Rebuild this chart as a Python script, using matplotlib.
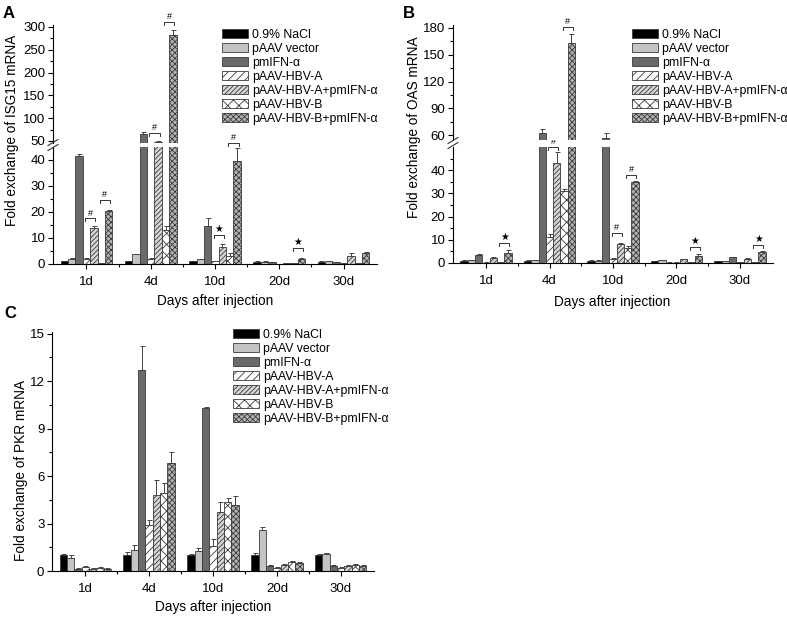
import numpy as np
import matplotlib
matplotlib.use('Agg')
import matplotlib.pyplot as plt
from matplotlib.lines import Line2D

# ---- data ----
days = ['1d', '4d', '10d', '20d', '30d']
groups = ['0.9% NaCl', 'pAAV vector', 'pmIFN-α', 'pAAV-HBV-A',
          'pAAV-HBV-A+pmIFN-α', 'pAAV-HBV-B', 'pAAV-HBV-B+pmIFN-α']

# rows = groups, cols = days
isg15_mean = [[1.0, 1.0, 1.0, 0.9, 0.9],
              [2.0, 3.7, 1.8, 0.9, 1.0],
              [41.5, 66, 14.5, 0.6, 0.6],
              [2.0, 2.0, 1.0, 0.1, 0.2],
              [13.8, 47, 6.7, 0.4, 3.2],
              [0.3, 13, 3.2, 0.4, 0.3],
              [20.3, 282, 39.5, 2.0, 4.2]]
isg15_err = [[0.1, 0.1, 0.1, 0.1, 0.1],
             [0.2, 0.3, 0.2, 0.1, 0.1],
             [0.8, 4, 3, 0.1, 0.1],
             [0.5, 0.5, 0.3, 0.05, 0.05],
             [1.0, 3, 1.0, 0.1, 1.0],
             [0.1, 1.5, 1.0, 0.1, 0.1],
             [0.3, 12, 5, 0.3, 0.5]]

oas_mean = [[1.0, 1.0, 1.0, 0.8, 0.8],
            [1.3, 1.3, 1.0, 1.2, 0.8],
            [3.5, 62, 57, 0.2, 2.5],
            [0.2, 11, 1.8, 0.2, 0.3],
            [2.3, 43, 8.2, 1.6, 1.8],
            [0.3, 31, 6.5, 0.3, 0.5],
            [4.5, 163, 35, 3.2, 4.8]]
oas_err = [[0.1, 0.1, 0.1, 0.1, 0.1],
           [0.1, 0.1, 0.1, 0.1, 0.1],
           [0.3, 5, 5, 0.05, 0.2],
           [0.1, 1.3, 0.2, 0.05, 0.05],
           [0.2, 5, 0.5, 0.2, 0.2],
           [0.05, 0.8, 1.0, 0.05, 0.05],
           [1.0, 10, 0.5, 0.5, 0.3]]

pkr_mean = [[1.0, 1.0, 1.0, 1.0, 1.0],
            [0.85, 1.35, 1.25, 2.6, 1.1],
            [0.15, 12.7, 10.3, 0.3, 0.3],
            [0.25, 2.9, 1.6, 0.2, 0.2],
            [0.15, 4.8, 3.7, 0.4, 0.3],
            [0.2, 4.9, 4.35, 0.55, 0.4],
            [0.15, 6.8, 4.2, 0.5, 0.3]]
pkr_err = [[0.05, 0.2, 0.1, 0.15, 0.05],
           [0.15, 0.3, 0.2, 0.2, 0.05],
           [0.02, 1.5, 0.05, 0.05, 0.05],
           [0.05, 0.35, 0.4, 0.05, 0.05],
           [0.05, 0.95, 0.65, 0.05, 0.05],
           [0.05, 0.65, 0.25, 0.1, 0.05],
           [0.05, 0.7, 0.55, 0.1, 0.05]]

# significance: (day index, bar i, bar j, bracket height, symbol)
isg15_sig = [(0, 3, 4, 17.5, '#'), (0, 5, 6, 24.5, '#'), (1, 3, 4, 67, '#'),
             (1, 5, 6, 311, '#'), (2, 3, 4, 11, '★'), (2, 5, 6, 46.5, '#'),
             (3, 5, 6, 6, '★')]
oas_sig = [(0, 5, 6, 8.6, '★'), (1, 3, 4, 50, '#'), (1, 5, 6, 181, '#'),
           (2, 3, 4, 13, '#'), (2, 5, 6, 38, '#'), (3, 5, 6, 7, '★'),
           (4, 5, 6, 7.7, '★')]

# ---- style ----
plt.rcParams['font.family'] = ['Liberation Sans', 'DejaVu Sans']
plt.rcParams['hatch.linewidth'] = 0.6

W, H = 787, 619
fig = plt.figure(figsize=(W / 100, H / 100), dpi=100)

face = ['#000000', '#c4c4c4', '#6a6a6a', '#ffffff', '#d6d6d6', '#ffffff', '#b4b4b4']
hatch = [None, None, None, '////', '///////', 'xxx', 'xxxxxx']
ec = '#3a3a3a'
bw = 0.115


def box(l, t, r, b):
    return [l / W, 1 - b / H, (r - l) / W, (b - t) / H]


def draw_bars(ax, mean, err):
    x = np.arange(len(days))
    conts = []
    for k in range(7):
        pos = x + (k - 3) * bw
        c = ax.bar(pos, mean[k], bw, color=face[k], hatch=hatch[k],
                   edgecolor=ec, linewidth=0.6, zorder=2)
        ax.errorbar(pos, mean[k], yerr=[np.zeros(5), err[k]], fmt='none',
                    ecolor='#444444', elinewidth=0.7, capsize=1.8,
                    capthick=0.7, zorder=1)
        conts.append(c)
    return conts


def style(ax, bottom=True):
    ax.spines['top'].set_visible(False)
    ax.spines['right'].set_visible(False)
    ax.set_xlim(-0.52, 4.52)
    ax.tick_params(direction='out', labelsize=9.5, length=3.5, width=0.8, pad=2)
    ax.tick_params(which='minor', direction='out', length=2, width=0.8)
    if bottom:
        ax.set_xticks(range(5))
        ax.set_xticklabels(days)
        ax.set_xticks([0.5, 1.5, 2.5, 3.5], minor=True)
        ax.tick_params(axis='x', pad=5)
    else:
        ax.spines['bottom'].set_visible(False)
        ax.tick_params(axis='x', which='both', bottom=False, labelbottom=False)


def ppu(ax):
    pos = ax.get_position()
    lo, hi = ax.get_ylim()
    return pos.height * H / (hi - lo)


def sig(ax, d, i, j, h, sym):
    x1 = d + (i - 3) * bw - 0.2 * bw
    x2 = d + (j - 3) * bw + 0.2 * bw
    leg = 3.0 / ppu(ax)
    ax.plot([x1, x1, x2, x2], [h - leg, h, h, h - leg], color='#333333',
            lw=0.7, clip_on=False, zorder=3)
    size = 6.5 if sym == '#' else 7
    ax.text((x1 + x2) / 2, h + 1.0 / ppu(ax), sym, ha='center', va='bottom',
            fontsize=size, clip_on=False)


def brk(xp, yp):
    for dy in (-2.5, 2.5):
        fig.add_artist(Line2D([(xp - 5) / W, (xp + 5) / W],
                              [1 - (yp + dy + 3) / H, 1 - (yp + dy - 3) / H],
                              color='#333333', lw=0.8))


def legend(handles, xp, yp):
    fig.legend(handles, groups, loc='upper left',
               bbox_to_anchor=(xp / W, 1 - yp / H), frameon=False, fontsize=8.8,
               handlelength=2.15, handleheight=0.7, handletextpad=0.3,
               labelspacing=0.17, borderpad=0, borderaxespad=0)


# ---- A: ISG15 ----
axA_lo = fig.add_axes(box(53, 147, 377, 264))
axA_hi = fig.add_axes(box(53, 24.7, 377, 143))
for ax in (axA_lo, axA_hi):
    h = draw_bars(ax, isg15_mean, isg15_err)
axA_lo.set_ylim(0, 45)
axA_lo.set_yticks([0, 10, 20, 30, 40])
axA_lo.set_yticks([5, 15, 25, 35], minor=True)
axA_hi.set_ylim(45.6, 305)
axA_hi.set_yticks([50, 100, 150, 200, 250, 300])
axA_hi.set_yticks([75, 125, 175, 225, 275], minor=True)
style(axA_lo)
style(axA_hi, bottom=False)
for d, i, j, hh, s in isg15_sig:
    sig(axA_hi if hh > 45.6 else axA_lo, d, i, j, hh, s)
brk(53, 145)
legend(h, 222, 28.5)
fig.text(12 / W, 1 - 130 / H, 'Fold exchange of ISG15 mRNA', rotation=90,
         ha='center', va='center', fontsize=9.8)
fig.text(215 / W, 1 - 301 / H, 'Days after injection', ha='center',
         va='center', fontsize=9.8)
fig.text(3 / W, 1 - 13 / H, 'A', fontsize=12, fontweight='bold', va='center')

# ---- B: OAS ----
axB_lo = fig.add_axes(box(453, 147, 773, 263))
axB_hi = fig.add_axes(box(453, 25.3, 773, 139.5))
for ax in (axB_lo, axB_hi):
    h = draw_bars(ax, oas_mean, oas_err)
axB_lo.set_ylim(0, 50)
axB_lo.set_yticks([0, 10, 20, 30, 40])
axB_lo.set_yticks([5, 15, 25, 35, 45], minor=True)
axB_hi.set_ylim(55, 183)
axB_hi.set_yticks([60, 90, 120, 150, 180])
axB_hi.set_yticks([75, 105, 135, 165], minor=True)
style(axB_lo)
style(axB_hi, bottom=False)
for d, i, j, hh, s in oas_sig:
    sig(axB_hi if hh > 55 else axB_lo, d, i, j, hh, s)
brk(453, 143)
legend(h, 632, 28.5)
fig.text(414 / W, 1 - 127 / H, 'Fold exchange of OAS mRNA', rotation=90,
         ha='center', va='center', fontsize=9.8)
fig.text(612 / W, 1 - 302 / H, 'Days after injection', ha='center',
         va='center', fontsize=9.8)
fig.text(403 / W, 1 - 13 / H, 'B', fontsize=12, fontweight='bold', va='center')

# ---- C: PKR ----
axC = fig.add_axes(box(52, 332, 374, 571))
h = draw_bars(axC, pkr_mean, pkr_err)
axC.set_ylim(0, 15.1)
axC.set_yticks([0, 3, 6, 9, 12, 15])
axC.set_yticks([1.5, 4.5, 7.5, 10.5, 13.5], minor=True)
style(axC)
legend(h, 233, 328.5)
fig.text(21 / W, 1 - 470 / H, 'Fold exchange of PKR mRNA', rotation=90,
         ha='center', va='center', fontsize=9.8)
fig.text(213 / W, 1 - 607 / H, 'Days after injection', ha='center',
         va='center', fontsize=9.8)
fig.text(4 / W, 1 - 313 / H, 'C', fontsize=12, fontweight='bold', va='center')

fig.savefig('out.png', dpi=100)
